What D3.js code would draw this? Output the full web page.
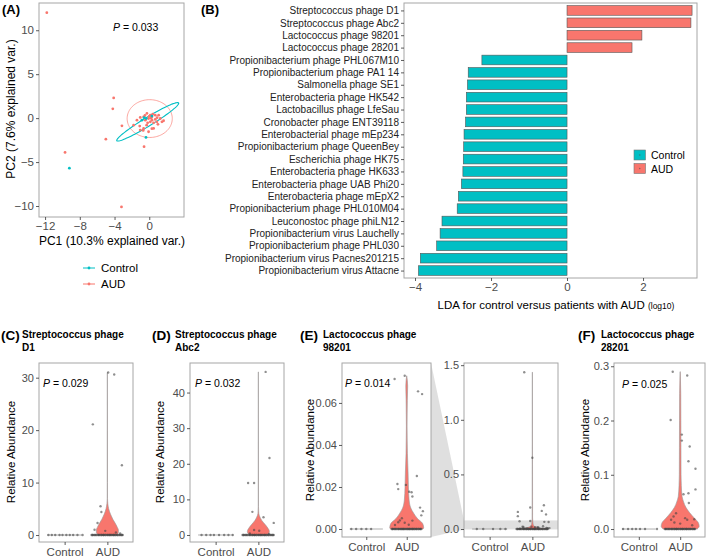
<!DOCTYPE html>
<html>
<head>
<meta charset="utf-8">
<script src="https://cdn.jsdelivr.net/npm/d3@7"></script>
<style>
  body { margin: 0; background: #fff; }
  svg { font-family: "Liberation Sans", Arial, Helvetica, sans-serif; }
</style>
</head>
<body>
<svg id="fig" width="709" height="560"></svg>
<script>
const TEAL = "#00BFC4", SALMON = "#F8766D";
const groups = ["Control", "AUD"];

// ---- (A) PCA
const pcaAud = [
  [-11.8, 12.0], [-9.7, -3.9], [-4.1, 2.3], [-4.2, 1.06], [-5.0, -2.4], [-3.15, -0.87], [-3.2, -10.1], [-0.6, -3.25],
  [-1.04, 0.08], [-0.65, 0.15], [-0.46, -0.23], [-0.08, -0.04], [0.31, 0.15], [0.69, 0.34], [1.08, 0.34], [0.12, -0.42],
  [0.5, -0.53], [0.88, -0.42], [1.46, -0.42], [-1.04, -1.36], [-0.65, -1.17], [-0.08, -1.55], [0.5, -1.17], [-1.8, -0.8],
  [-1.42, -0.23], [-0.27, 0.53], [0.12, 0.34], [-0.19, -0.53], [1.27, -0.04], [0.31, -0.23], [0.69, -0.15], [1.65, -0.3],
  [-1.1, -0.9], [0.3, -1.2], [-0.7, -1.4], [0.9, 0.05], [0.2, 0.0], [-0.3, -0.8], [1.0, -0.7], [0.4, 0.45], [-0.5, 0.3], [0.0, 0.2]
];
const pcaControl = [[-9.2, -5.7], [-0.38, -2.2], [-0.85, -0.23], [-0.35, -0.04], [0.3, 0.23], [-0.6, 0.05]];
// ellipse: centre, first and second semi-axis vectors (data units)
const ellipseControl = [[-0.18, -0.42], [3.56, 2.15], [0.26, -0.42]];
const ellipseAud = [[0.05, -0.05], [2.6, 0], [0, 2.15]];
const pcaXTicks = [-12, -8, -4, 0];
const pcaYTicks = [-10, -5, 0, 5, 10];

// ---- (B) LDA
const ldaNames = [
  "Streptococcus phage D1", "Streptococcus phage Abc2", "Lactococcus phage 98201", "Lactococcus phage 28201",
  "Propionibacterium phage PHL067M10", "Propionibacterium phage PA1 14", "Salmonella phage SE1",
  "Enterobacteria phage HK542", "Lactobacillus phage LfeSau", "Cronobacter phage ENT39118",
  "Enterobacterial phage mEp234", "Propionibacterium phage QueenBey", "Escherichia phage HK75",
  "Enterobacteria phage HK633", "Enterobacteria phage UAB Phi20", "Enterobacteria phage mEpX2",
  "Propionibacterium phage PHL010M04", "Leuconostoc phage phiLN12", "Propionibacterium virus Lauchelly",
  "Propionibacterium phage PHL030", "Propionibacterium virus Pacnes201215", "Propionibacterium virus Attacne"
];
const ldaScores = [3.29, 3.26, 1.97, 1.71, -2.24, -2.6, -2.62, -2.65, -2.65, -2.67, -2.71, -2.72, -2.73, -2.74,
  -2.78, -2.86, -2.89, -3.29, -3.34, -3.43, -3.86, -3.91];
const ldaTicks = [-4, -2, 0, 2];

// ---- (C)-(F) violins: points are [jitter, value], violin profiles are [value, relative density]
const audZeroJitter = [-0.37, -0.35, -0.34, -0.31, -0.29, -0.27, -0.25, -0.22, -0.2, -0.19, -0.16, -0.14,
  -0.13, -0.1, -0.09, -0.08, -0.05, -0.04, -0.01, 0.01, 0.02, 0.05, 0.06, 0.07, 0.1, 0.11, 0.14, 0.15,
  0.16, 0.19, 0.2, 0.23, 0.24, 0.26, 0.29, 0.3, 0.33, 0.34, 0.36];

const ctrlJitterC = [-0.38, -0.3, -0.22, -0.12, -0.05, 0.04, 0.12, 0.2, 0.3, 0.42];
const audPointsC = [[-0.34, 21.1], [0.16, 30.6], [0.34, 13.3], [-0.16, 5.5], [-0.14, 4.4], [-0.23, 2.3],
  [-0.3, 1.0], [0.02, 31.0], [-0.05, 0.8], [0.2, 0.5], [0.3, 0.3]];
const violinC = [[0, 0.8], [0.5, 1], [1, 1], [1.5, 0.9], [2, 0.78], [3, 0.5], [4, 0.28], [5, 0.12], [6, 0.04],
  [7, 0.012], [10, 0.01], [20, 0.01], [31, 0.005]];

const ctrlJitterD = [-0.33, -0.22, -0.12, -0.04, 0.08, 0.2, 0.3, 0.4];
const audPointsD = [[-0.24, 14.6], [-0.1, 14.6], [-0.14, 6.5], [0.17, 45.8], [0.26, 21.6], [0.12, 5.0],
  [0.36, 3.4], [-0.1, 1.4], [0.02, 1.2], [-0.2, 0.4], [0.25, 0.3]];
const violinD = [[0, 0.7], [0.5, 0.95], [1, 1], [2, 0.85], [3, 0.6], [4, 0.33], [5, 0.15], [6, 0.04],
  [8, 0.01], [45.8, 0.005]];

const ctrlJitterE1 = [-0.37, -0.25, -0.12, 0, 0.12];
const ctrlJitterE2 = [-0.3, -0.15, 0.08, 0.25, 0.37];
const audPointsE = [[-0.3, 0.0714], [-0.05, 0.0729], [0.28, 0.0655], [0.38, 0.0642], [0.25, 0.0252],
  [-0.23, 0.0214], [-0.21, 0.019], [-0.02, 0.021], [0.06, 0.0177], [0.12, 0.0175], [0.14, 0.0155],
  [0.33, 0.0102], [0.4, 0.0085], [0.36, 0.0065], [-0.12, 0.0051], [-0.17, 0.0041], [-0.21, 0.0032],
  [-0.29, 0.0019], [0.14, 0.004], [-0.05, 0.003], [0.05, 0.002],
  [-0.19, 1.436], [0.0, 0.652], [-0.05, 0.197], [-0.34, 0.157], [-0.34, 0.118], [0.27, 0.218],
  [0.22, 0.166], [0.32, 0.134]];
const violinE1 = [[0, 0.95], [0.0005, 1], [0.0027, 0.93], [0.005, 0.63], [0.0075, 0.41], [0.01, 0.24],
  [0.0138, 0.14], [0.02, 0.1], [0.0266, 0.08], [0.036, 0.04], [0.049, 0.02], [0.061, 0.035], [0.068, 0.055],
  [0.0729, 0.005]];
const violinE2 = [[0, 1], [0.005, 0.8], [0.01, 0.45], [0.02, 0.2], [0.04, 0.06], [0.07, 0.03], [0.1, 0.015],
  [0.66, 0.01], [1.436, 0.005]];

const ctrlJitterF = [-0.38, -0.26, -0.16, -0.07, 0.03, 0.15, 0.44];
const audPointsF = [[-0.18, 0.29], [0.17, 0.283], [-0.23, 0.201], [0.04, 0.174], [0.04, 0.163], [0.23, 0.152],
  [0.2, 0.125], [0.37, 0.111], [0.37, 0.073], [0.08, 0.064], [0.2, 0.066], [0.21, 0.048], [-0.1, 0.029],
  [-0.16, 0.023], [0.12, 0.02], [0.17, 0.017], [-0.14, 0.012], [-0.22, 0.017], [0.29, 0.007], [0.34, 0.018],
  [0.0, 0.01]];
const violinF = [[0, 0.9], [0.005, 1], [0.012, 0.95], [0.02, 0.75], [0.03, 0.5], [0.04, 0.3], [0.05, 0.18],
  [0.06, 0.1], [0.08, 0.06], [0.1, 0.045], [0.15, 0.04], [0.2, 0.035], [0.25, 0.03], [0.29, 0.005]];

const svg = d3.select("#fig");

function styleAxis(sel, size) {
  sel.select(".domain").remove();
  sel.selectAll(".tick line").attr("stroke", "#333").attr("stroke-width", 0.8);
  sel.selectAll(".tick text").attr("fill", "#4D4D4D").attr("font-size", size);
}

function frame(x0, y0, x1, y1) {
  svg.append("rect").attr("x", x0).attr("y", y0).attr("width", x1 - x0).attr("height", y1 - y0)
    .attr("fill", "none").attr("stroke", "#a6a6a6").attr("stroke-width", 1);
}

function label(x, y, txt, size, opts) {
  opts = opts || {};
  return svg.append("text").attr("x", x).attr("y", y).attr("font-size", size)
    .attr("font-weight", opts.bold ? "bold" : null)
    .attr("text-anchor", opts.anchor || "start")
    .attr("fill", opts.fill || "#000")
    .text(txt);
}

function pValue(x, y, txt) {
  const t = svg.append("text").attr("x", x).attr("y", y).attr("font-size", 10.5);
  t.append("tspan").attr("font-style", "italic").text("P");
  t.append("tspan").text(" = " + txt);
}

// ================= (A)
(function () {
  const x = d3.scaleLinear().domain([-12.7, 4.0]).range([39, 184]);
  const y = d3.scaleLinear().domain([-11.25, 13.1]).range([217, 3]);
  svg.append("clipPath").attr("id", "clipA").append("rect")
    .attr("x", 39).attr("y", 3).attr("width", 145).attr("height", 214);
  const g = svg.append("g").attr("clip-path", "url(#clipA)");

  function ellipse(e) {
    const pts = d3.range(0, 101).map(i => {
      const t = i / 100 * 2 * Math.PI;
      return [x(e[0][0] + Math.cos(t) * e[1][0] + Math.sin(t) * e[2][0]),
              y(e[0][1] + Math.cos(t) * e[1][1] + Math.sin(t) * e[2][1])];
    });
    return d3.line()(pts);
  }
  g.append("path").attr("d", ellipse(ellipseAud)).attr("fill", "none").attr("stroke", SALMON)
    .attr("stroke-width", 0.8).attr("opacity", 0.8);
  g.append("path").attr("d", ellipse(ellipseControl)).attr("fill", "none").attr("stroke", TEAL).attr("stroke-width", 1.1);

  g.selectAll(".pa").data(pcaAud).enter().append("circle")
    .attr("cx", d => x(d[0])).attr("cy", d => y(d[1])).attr("r", 1.4).attr("fill", SALMON);
  g.selectAll(".pc").data(pcaControl).enter().append("circle")
    .attr("cx", d => x(d[0])).attr("cy", d => y(d[1])).attr("r", 1.4).attr("fill", TEAL);

  frame(39, 3, 184, 217);
  svg.append("g").attr("transform", "translate(0,217)")
    .call(d3.axisBottom(x).tickValues(pcaXTicks).tickSize(3).tickPadding(2))
    .call(s => styleAxis(s, 11.5));
  svg.append("g").attr("transform", "translate(39,0)")
    .call(d3.axisLeft(y).tickValues(pcaYTicks).tickSize(3).tickPadding(2))
    .call(s => styleAxis(s, 11.5));

  label(112, 245, "PC1 (10.3% explained var.)", 12, { anchor: "middle" });
  label(0, 0, "PC2 (7.6% explained var.)", 12, { anchor: "middle" })
    .attr("transform", "translate(15,109) rotate(-90)");
  pValue(113, 31, "0.033");
  label(2, 14, "(A)", 13, { bold: true });

  // legend
  const lg = svg.append("g");
  [["Control", TEAL, 268], ["AUD", SALMON, 284]].forEach(d => {
    lg.append("line").attr("x1", 83).attr("x2", 95).attr("y1", d[2]).attr("y2", d[2])
      .attr("stroke", d[1]).attr("stroke-width", 1);
    lg.append("circle").attr("cx", 89).attr("cy", d[2]).attr("r", 1.4).attr("fill", d[1]);
    label(101, d[2] + 4, d[0], 11.5);
  });
})();

// ================= (B)
(function () {
  const x = d3.scaleLinear().domain([-4.29, 3.42]).range([404, 697]);
  const y = d3.scalePoint().domain(ldaNames).range([3, 278]).padding(0.6);
  const h = y.step() * 0.78;
  svg.append("g").selectAll("rect").data(ldaNames).enter().append("rect")
    .attr("x", (d, i) => x(Math.min(0, ldaScores[i])))
    .attr("width", (d, i) => Math.abs(x(ldaScores[i]) - x(0)))
    .attr("y", d => y(d) - h / 2).attr("height", h)
    .attr("fill", (d, i) => ldaScores[i] > 0 ? SALMON : TEAL)
    .attr("stroke", "#555").attr("stroke-width", 0.6);

  frame(404, 3, 697, 278);
  svg.append("g").attr("transform", "translate(0,278)")
    .call(d3.axisBottom(x).tickValues(ldaTicks).tickSize(3).tickPadding(2))
    .call(s => styleAxis(s, 11.5));
  svg.append("g").attr("transform", "translate(404,0)")
    .call(d3.axisLeft(y).tickSize(3).tickPadding(2))
    .call(s => styleAxis(s, 10))
    .call(s => s.selectAll(".tick text").attr("fill", "#222"));

  const t = svg.append("text").attr("x", 556).attr("y", 309).attr("font-size", 11.5).attr("text-anchor", "middle");
  t.append("tspan").text("LDA for control versus patients with AUD ");
  t.append("tspan").attr("font-size", 8.5).text("(log10)");
  label(201, 14, "(B)", 13, { bold: true });

  [["Control", TEAL, 150], ["AUD", SALMON, 163.5]].forEach(d => {
    svg.append("rect").attr("x", 634).attr("y", d[2]).attr("width", 11.5).attr("height", 10)
      .attr("fill", d[1]).attr("stroke", "#777").attr("stroke-width", 0.6);
    svg.append("circle").attr("cx", 639.75).attr("cy", d[2] + 5).attr("r", 0.8).attr("fill", "#555").attr("opacity", 0.6);
    label(651, d[2] + 9, d[0], 10.5);
  });
})();

// ================= (C)-(F)
function violinPanel(c) {
  const x = d3.scalePoint().domain(groups).range([c.box[0], c.box[2]]).padding(0.6);
  const y = d3.scaleLinear().domain(c.yDomain).range([c.box[3], c.box[1]]);
  const step = x.step();
  const g = svg.append("g");

  if (c.band) {
    g.append("rect").attr("x", c.box[0]).attr("width", c.box[2] - c.box[0])
      .attr("y", y(c.band[1])).attr("height", y(c.band[0]) - y(c.band[1]))
      .attr("fill", "#d9d9d9").attr("opacity", 0.85);
  }

  // degenerate control violin (all zeros)
  g.append("line").attr("x1", x("Control") - 0.41 * step).attr("x2", x("Control") + 0.41 * step)
    .attr("y1", y(0)).attr("y2", y(0)).attr("stroke", "#8c8c8c").attr("stroke-width", 0.7);

  const w = d3.scaleLinear().domain([0, 1]).range([0, c.vWidth]);
  const cx = x("AUD");
  const area = d3.area()
    .y(d => y(d[0])).x0(d => cx - w(d[1])).x1(d => cx + w(d[1]))
    .curve(d3.curveMonotoneY);
  g.append("path").attr("d", area(c.violin)).attr("fill", SALMON)
    .attr("stroke", "#999").attr("stroke-width", 0.6);

  const top = c.yDomain[1];
  const pts = []
    .concat(c.ctrl.map(j => ["Control", j, 0]))
    .concat(audZeroJitter.map(j => ["AUD", j, 0]))
    .concat(c.aud.filter(d => d[1] <= top).map(d => ["AUD", d[0], d[1]]));
  g.selectAll("circle").data(pts).enter().append("circle")
    .attr("cx", d => x(d[0]) + d[1] * step).attr("cy", d => y(d[2]))
    .attr("r", 1.2).attr("fill", "#444").attr("opacity", 0.6);

  frame(c.box[0], c.box[1], c.box[2], c.box[3]);
  svg.append("g").attr("transform", "translate(0," + c.box[3] + ")")
    .call(d3.axisBottom(x).tickSize(3).tickPadding(3))
    .call(s => styleAxis(s, 11.5));
  svg.append("g").attr("transform", "translate(" + c.box[0] + ",0)")
    .call(d3.axisLeft(y).tickValues(c.yTicks).tickFormat(d3.format(c.fmt)).tickSize(3).tickPadding(2))
    .call(s => styleAxis(s, 11));

  if (c.yLabel) {
    label(0, 0, "Relative Abundance", 11.5, { anchor: "middle" })
      .attr("transform", "translate(" + c.yLabel[0] + "," + c.yLabel[1] + ") rotate(-90)");
  }
  if (c.letter) {
    label(c.letter[1], 340, c.letter[0], 13.5, { bold: true });
    label(c.letter[2], 338, c.title[0], 10, { bold: true });
    label(c.letter[2], 351, c.title[1], 10, { bold: true });
  }
  if (c.p) pValue(c.p[0], c.p[1], c.p[2]);
  return { x, y };
}

violinPanel({
  box: [39, 363, 133, 542], yDomain: [-1.33, 32.8], yTicks: [0, 10, 20, 30], fmt: "d",
  ctrl: ctrlJitterC, aud: audPointsC, violin: violinC, vWidth: 11,
  yLabel: [15, 452], letter: ["(C)", 1, 22], title: ["Streptococcus phage", "D1"], p: [43, 387, "0.029"]
});
violinPanel({
  box: [190, 363, 284, 542], yDomain: [-1.97, 48.3], yTicks: [0, 10, 20, 30, 40], fmt: "d",
  ctrl: ctrlJitterD, aud: audPointsD, violin: violinD, vWidth: 11,
  yLabel: [164, 452], letter: ["(D)", 152, 175], title: ["Streptococcus phage", "Abc2"], p: [195, 387, "0.032"]
});
const eLeftDomain = [-0.0038, 0.079];
const eRight = violinPanel({
  box: [464, 363, 558, 537], yDomain: [-0.073, 1.52], yTicks: [0, 0.5, 1.0, 1.5], fmt: ".1f",
  ctrl: ctrlJitterE2, aud: audPointsE, violin: violinE2, vWidth: 15, band: eLeftDomain
});
// zoom connector between the two (E) panels
svg.insert("path", ":first-child")
  .attr("d", d3.line()([[431, 363], [464, eRight.y(eLeftDomain[1])], [464, eRight.y(eLeftDomain[0])], [431, 537]]) + "Z")
  .attr("fill", "#d9d9d9").attr("opacity", 0.85);
violinPanel({
  box: [342, 363, 431, 537], yDomain: eLeftDomain, yTicks: [0, 0.02, 0.04, 0.06], fmt: ".2f",
  ctrl: ctrlJitterE1, aud: audPointsE, violin: violinE1, vWidth: 17,
  yLabel: [314, 450], letter: ["(E)", 300, 323], title: ["Lactococcus phage", "98201"], p: [345, 387, "0.014"]
});
violinPanel({
  box: [614, 363, 705, 537], yDomain: [-0.0147, 0.306], yTicks: [0, 0.1, 0.2, 0.3], fmt: ".1f",
  ctrl: ctrlJitterF, aud: audPointsF, violin: violinF, vWidth: 19,
  yLabel: [589, 450], letter: ["(F)", 578, 601], title: ["Lactococcus phage", "28201"], p: [622, 388, "0.025"]
});
</script>
</body>
</html>
